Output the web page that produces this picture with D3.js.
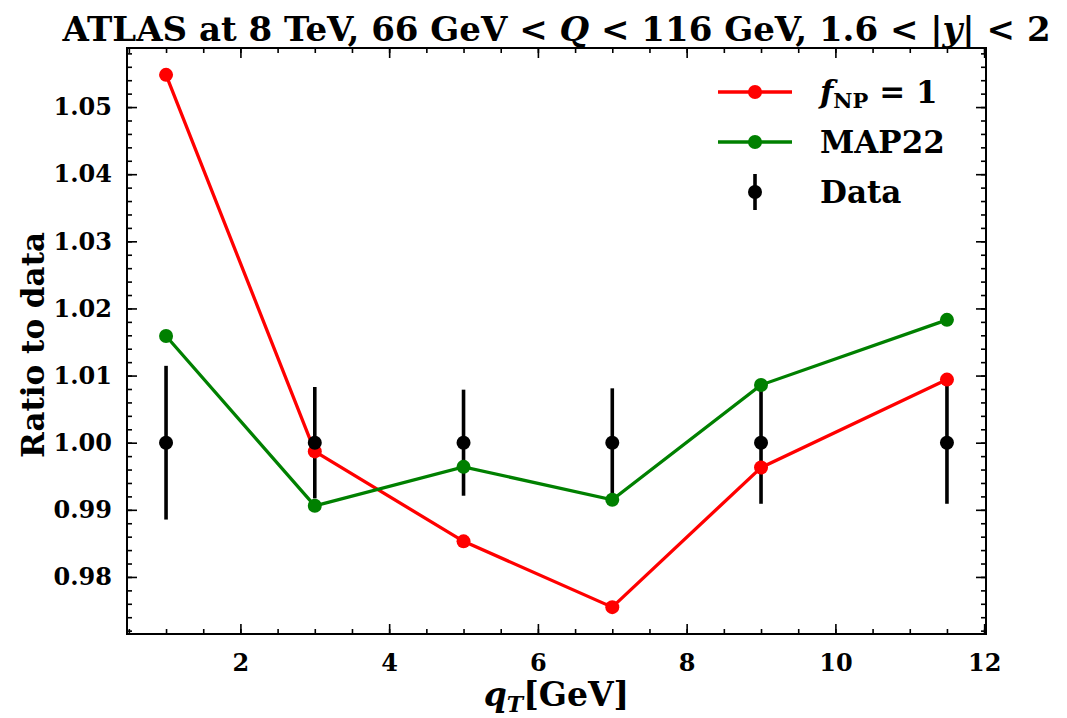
<!DOCTYPE html>
<html>
<head>
<meta charset="utf-8">
<script src="https://cdn.jsdelivr.net/npm/d3@7/dist/d3.min.js"></script>
<style>
  html, body { margin: 0; padding: 0; background: #fff; }
  svg text { font-family: "DejaVu Serif", "Liberation Serif", serif; font-weight: bold; fill: #000; }
</style>
</head>
<body>
<svg id="chart" width="1067" height="718"></svg>
<script>
// qT bin centres (GeV)
const qT = [1, 3, 5, 7, 9, 11.5];
// theory / data ratios
const ratioFNP1 = [1.0548, 0.9987, 0.9853, 0.9755, 0.9963, 1.0094];
const ratioMAP22 = [1.0159, 0.9906, 0.9964, 0.9915, 1.0086, 1.0183];
// data points (normalised to 1) with uncertainties
const dataRatio = [1, 1, 1, 1, 1, 1];
const dataErr = [0.01145, 0.0083, 0.0079, 0.0081, 0.0091, 0.0091];
// tick values
const xTicks = [2, 4, 6, 8, 10, 12];
const yTicks = [0.98, 0.99, 1.00, 1.01, 1.02, 1.03, 1.04, 1.05];

const svg = d3.select("#chart");
const W = 1067, H = 718;
const margin = { left: 127, right: W - 986, top: 48, bottom: H - 634 };

const x = d3.scaleLinear().domain([0.475, 12.025]).range([margin.left, W - margin.right]);
const y = d3.scaleLinear().domain([0.9715, 1.0588]).range([H - margin.bottom, margin.top]);

const RED = "#ff0000", GREEN = "#008000";
const R = 7;

// error bars (bottom layer)
svg.append("g").selectAll("line").data(qT).join("line")
  .attr("x1", (d) => x(d)).attr("x2", (d) => x(d))
  .attr("y1", (d, i) => y(dataRatio[i] - dataErr[i]))
  .attr("y2", (d, i) => y(dataRatio[i] + dataErr[i]))
  .attr("stroke", "#000").attr("stroke-width", 3.6);

function series(vals, color) {
  const pts = qT.map((q, i) => [q, vals[i]]);
  const g = svg.append("g");
  g.append("path")
    .attr("d", d3.line().x((d) => x(d[0])).y((d) => y(d[1]))(pts))
    .attr("fill", "none").attr("stroke", color).attr("stroke-width", 3.3);
  g.selectAll("circle").data(pts).join("circle")
    .attr("cx", (d) => x(d[0])).attr("cy", (d) => y(d[1])).attr("r", R)
    .attr("fill", color);
}
series(ratioFNP1, RED);
series(ratioMAP22, GREEN);

// data markers
svg.append("g").selectAll("circle").data(qT).join("circle")
  .attr("cx", (d) => x(d)).attr("cy", (d, i) => y(dataRatio[i])).attr("r", R)
  .attr("fill", "#000");

// axes with inward ticks on all four sides
const xMinor = d3.range(0.5, 12.01, 0.5);
const yMinor = d3.range(0.972, 1.0581, 0.002);
function tickAxis(axisGen, transform) {
  const g = svg.append("g").attr("transform", transform).call(axisGen);
  g.attr("font-family", null).attr("font-size", null);
  g.select(".domain").remove();
  g.selectAll(".tick line").attr("stroke", "#000").attr("stroke-width", 1.6);
  return g;
}
const bottomY = H - margin.bottom, topY = margin.top;
const leftX = margin.left, rightX = W - margin.right;

// minor ticks
tickAxis(d3.axisBottom(x).tickValues(xMinor).tickSize(-5).tickFormat(""), `translate(0,${bottomY})`);
tickAxis(d3.axisTop(x).tickValues(xMinor).tickSize(-5).tickFormat(""), `translate(0,${topY})`);
tickAxis(d3.axisLeft(y).tickValues(yMinor).tickSize(-5).tickFormat(""), `translate(${leftX},0)`);
tickAxis(d3.axisRight(y).tickValues(yMinor).tickSize(-5).tickFormat(""), `translate(${rightX},0)`);
// major ticks
const xb = tickAxis(d3.axisBottom(x).tickValues(xTicks).tickSize(-10).tickPadding(20).tickFormat(d3.format("d")), `translate(0,${bottomY})`);
xb.selectAll("text").style("font-size", "24px");
tickAxis(d3.axisTop(x).tickValues(xTicks).tickSize(-10).tickFormat(""), `translate(0,${topY})`);
const yl = tickAxis(d3.axisLeft(y).tickValues(yTicks).tickSize(-10).tickPadding(15).tickFormat(d3.format(".2f")), `translate(${leftX},0)`);
yl.selectAll("text").style("font-size", "24px");
tickAxis(d3.axisRight(y).tickValues(yTicks).tickSize(-10).tickFormat(""), `translate(${rightX},0)`);

// frame
svg.append("rect").attr("x", leftX).attr("y", topY)
  .attr("width", rightX - leftX).attr("height", bottomY - topY)
  .attr("fill", "none").attr("stroke", "#000").attr("stroke-width", 2);

// title
const title = svg.append("text").attr("x", (leftX + rightX) / 2).attr("y", 41)
  .attr("text-anchor", "middle").style("font-size", "34px");
title.append("tspan").text("ATLAS at 8 TeV, 66 GeV < ");
title.append("tspan").style("font-style", "italic").text("Q");
title.append("tspan").text(" < 116 GeV, 1.6 < |");
title.append("tspan").style("font-style", "italic").text("y");
title.append("tspan").text("| < 2");

// axis labels
const xl = svg.append("text").attr("x", (leftX + rightX) / 2).attr("y", 706)
  .attr("text-anchor", "middle").style("font-size", "33px");
xl.append("tspan").style("font-style", "italic").text("q");
xl.append("tspan").style("font-style", "italic").style("font-size", "22px").attr("dy", 6).text("T");
xl.append("tspan").attr("dy", -6).text("[GeV]");

svg.append("text").attr("transform", `translate(44,${(topY + bottomY) / 2 + 4}) rotate(-90)`)
  .attr("text-anchor", "middle").style("font-size", "31px").text("Ratio to data");

// legend
const legend = svg.append("g");
const lgX0 = 718, lgX1 = 792, lgTx = 820;
const entries = [
  { color: RED, y: 92, kind: "line" },
  { color: GREEN, y: 142, kind: "line" },
  { color: "#000", y: 192, kind: "err" }
];
entries.forEach((e) => {
  const cx = (lgX0 + lgX1) / 2;
  if (e.kind === "line") {
    legend.append("line").attr("x1", lgX0).attr("x2", lgX1).attr("y1", e.y).attr("y2", e.y)
      .attr("stroke", e.color).attr("stroke-width", 3.3);
  } else {
    legend.append("line").attr("x1", cx).attr("x2", cx).attr("y1", e.y - 18).attr("y2", e.y + 18)
      .attr("stroke", e.color).attr("stroke-width", 3.6);
  }
  legend.append("circle").attr("cx", cx).attr("cy", e.y).attr("r", R).attr("fill", e.color);
});
const t1 = legend.append("text").attr("x", lgTx).attr("y", 92 + 11).style("font-size", "31px");
t1.append("tspan").style("font-style", "italic").text("f");
t1.append("tspan").style("font-size", "21px").attr("dy", 5).text("NP");
t1.append("tspan").attr("dy", -5).text(" = 1");
legend.append("text").attr("x", lgTx).attr("y", 142 + 11).style("font-size", "31px").text("MAP22");
legend.append("text").attr("x", lgTx).attr("y", 192 + 11).style("font-size", "31px").text("Data");
</script>
</body>
</html>
